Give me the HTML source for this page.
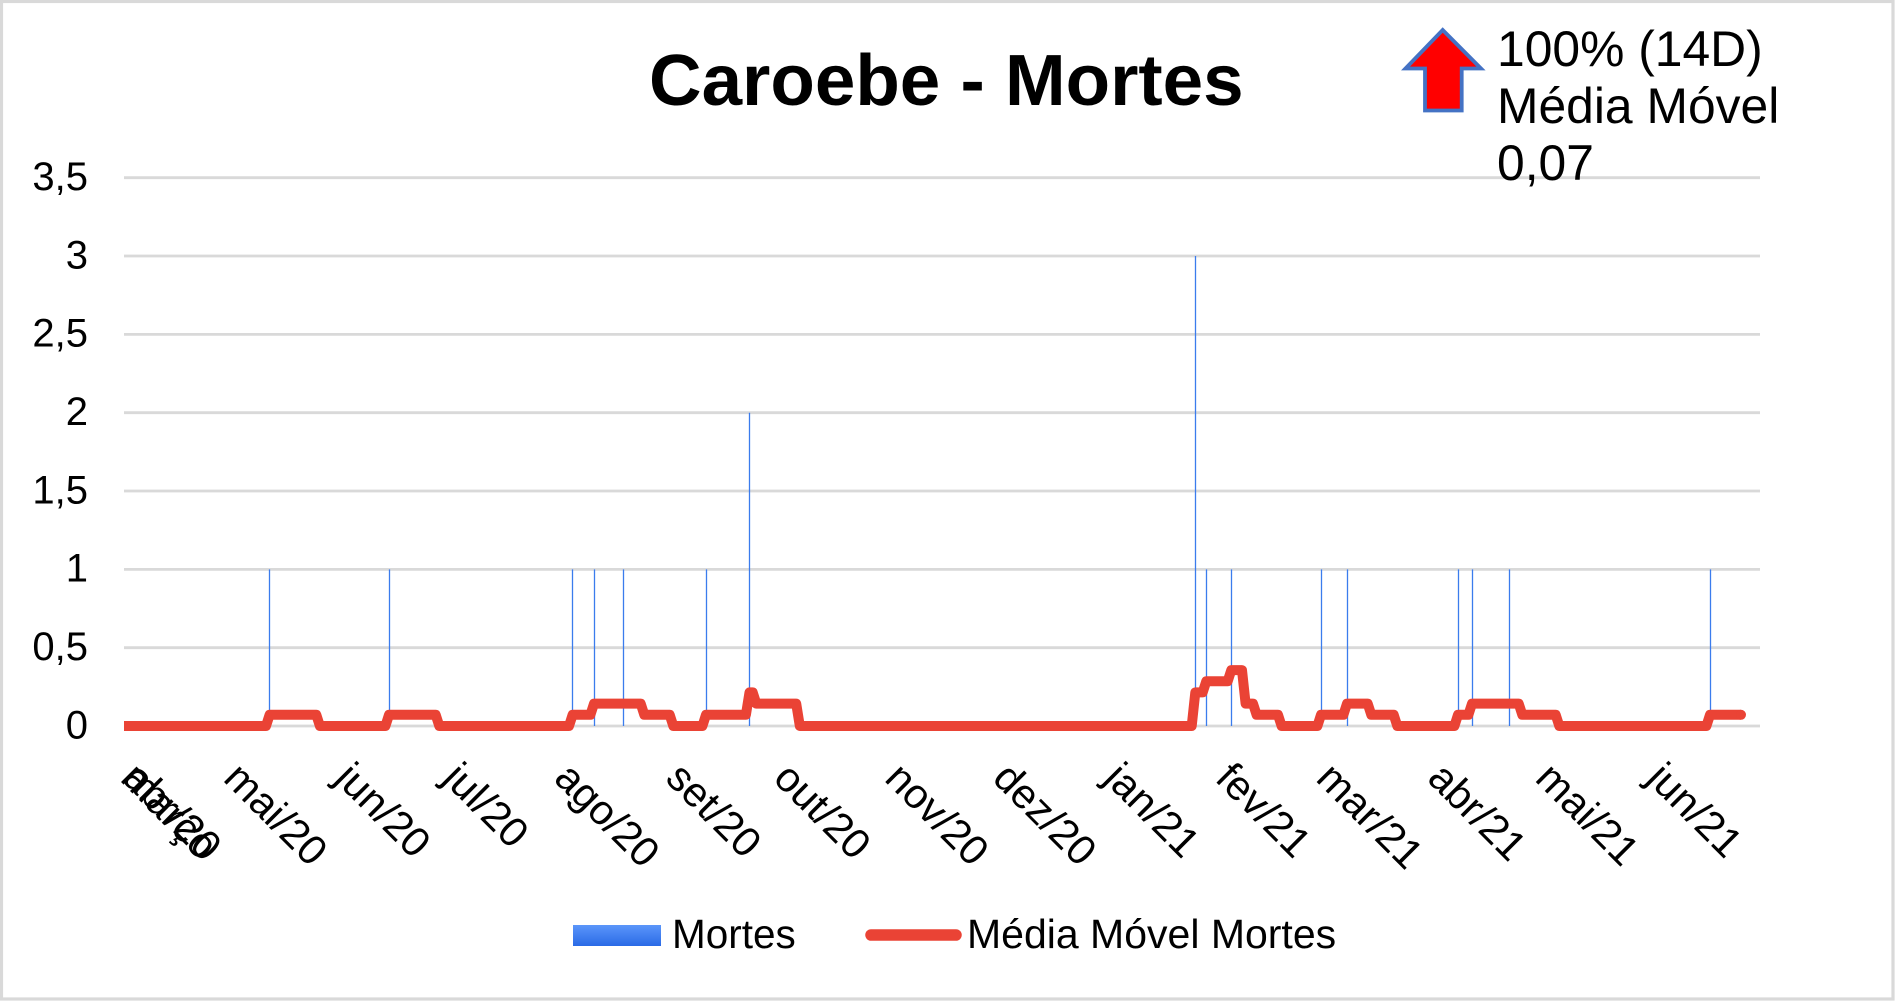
<!DOCTYPE html>
<html>
<head>
<meta charset="utf-8">
<style>
  html, body { margin: 0; padding: 0; background: #ffffff; }
  body { width: 1895px; height: 1001px; overflow: hidden; }
  svg { display: block; font-family: "Liberation Sans", Arial, sans-serif; }
</style>
</head>
<body>
<svg width="1895" height="1001" viewBox="0 0 1895 1001" xmlns="http://www.w3.org/2000/svg">
  <defs>
    <linearGradient id="blueGrad" x1="0" y1="0" x2="0" y2="1">
      <stop offset="0" stop-color="#5b96fa"/>
      <stop offset="1" stop-color="#2a6ae6"/>
    </linearGradient>
  </defs>

  <!-- background and border -->
  <rect x="0" y="0" width="1895" height="1001" fill="#ffffff"/>
  <rect x="1.5" y="1.5" width="1891.5" height="997.5" fill="none" stroke="#d9d9d9" stroke-width="3.2"/>

  <!-- title -->
  <text x="649" y="105" font-size="72.8" font-weight="bold" fill="#000">Caroebe - Mortes</text>

  <!-- gridlines -->
  <g stroke="#d9d9d9" stroke-width="2.8">
    <line x1="124" y1="177.7" x2="1760" y2="177.7"/>
    <line x1="124" y1="256.0" x2="1760" y2="256.0"/>
    <line x1="124" y1="334.4" x2="1760" y2="334.4"/>
    <line x1="124" y1="412.7" x2="1760" y2="412.7"/>
    <line x1="124" y1="491.0" x2="1760" y2="491.0"/>
    <line x1="124" y1="569.4" x2="1760" y2="569.4"/>
    <line x1="124" y1="647.7" x2="1760" y2="647.7"/>
    <line x1="124" y1="726.0" x2="1760" y2="726.0"/>
  </g>

  <!-- y-axis labels -->
  <g font-size="40" fill="#000" text-anchor="end">
    <text x="88" y="190">3,5</text>
    <text x="88" y="268.3">3</text>
    <text x="88" y="346.7">2,5</text>
    <text x="88" y="425">2</text>
    <text x="88" y="503.3">1,5</text>
    <text x="88" y="581.7">1</text>
    <text x="88" y="660">0,5</text>
    <text x="88" y="738.3">0</text>
  </g>

  <!-- annotation arrow -->
  <polygon points="1442.7,30 1481,68.5 1461.7,68.5 1461.7,110.5 1425,110.5 1425,68.5 1405.5,68.5"
           fill="#ff0000" stroke="#4472c4" stroke-width="3.8" stroke-linejoin="miter"/>

  <!-- bars (Mortes) -->
  <g stroke="#3b7ced" stroke-width="1.3">
    <line x1="269.5" y1="569.4" x2="269.5" y2="726"/>
    <line x1="389.5" y1="569.4" x2="389.5" y2="726"/>
    <line x1="572.5" y1="569.4" x2="572.5" y2="726"/>
    <line x1="594.5" y1="569.4" x2="594.5" y2="726"/>
    <line x1="623.5" y1="569.4" x2="623.5" y2="726"/>
    <line x1="706.5" y1="569.4" x2="706.5" y2="726"/>
    <line x1="749.5" y1="412.7" x2="749.5" y2="726"/>
    <line x1="1195.5" y1="256.0" x2="1195.5" y2="726"/>
    <line x1="1206.5" y1="569.4" x2="1206.5" y2="726"/>
    <line x1="1231.5" y1="569.4" x2="1231.5" y2="726"/>
    <line x1="1321.5" y1="569.4" x2="1321.5" y2="726"/>
    <line x1="1347.5" y1="569.4" x2="1347.5" y2="726"/>
    <line x1="1458.5" y1="569.4" x2="1458.5" y2="726"/>
    <line x1="1472.5" y1="569.4" x2="1472.5" y2="726"/>
    <line x1="1509.5" y1="569.4" x2="1509.5" y2="726"/>
    <line x1="1710.5" y1="569.4" x2="1710.5" y2="726"/>
  </g>

  <!-- moving average line -->
  <polyline fill="none" stroke="#ea4335" stroke-width="10" stroke-linejoin="round" stroke-linecap="butt"
    points="124,726 266.0,726 269.6,714.8 316.3,714.8 319.9,726 385.4,726 389,714.8 435.7,714.8 439.3,726
            569.0,726 572.6,714.8 590.4,714.8 594,703.6 640.7,703.6 644.3,714.8 669.7,714.8 673.3,726
            702.4,726 706,714.8 745.9,714.8 749.5,692.4 752.7,692.4 756.3,703.6 796.2,703.6 799.8,726
            1191.7,726 1195.3,692.4 1202.7,692.4 1206.3,681.2 1227.7,681.2 1231.3,670.1 1242.0,670.1 1245.6,703.6
            1253.0,703.6 1256.6,714.8 1278.0,714.8 1281.6,726 1317.4,726 1321,714.8 1343.4,714.8 1347,703.6
            1367.7,703.6 1371.3,714.8 1393.7,714.8 1397.3,726 1454.4,726 1458,714.8 1468.4,714.8 1472,703.6
            1518.7,703.6 1522.3,714.8 1555.7,714.8 1559.3,726 1706.4,726 1710,714.8 1741,714.8"/>
  <circle cx="1741" cy="714.8" r="5" fill="#ea4335"/>

  <!-- annotation text -->
  <g font-size="49.8" fill="#000">
    <text x="1497" y="66">100% (14D)</text>
    <text x="1497" y="123">Média Móvel</text>
    <text x="1497" y="180">0,07</text>
  </g>

  <!-- x-axis labels (rotated 45deg) -->
  <g font-size="41.5" fill="#000">
    <text x="119" y="780" transform="rotate(45 119 780)">março</text>
    <text x="121" y="780" transform="rotate(45 121 780)">abr/20</text>
    <text x="222" y="780" transform="rotate(45 222 780)">mai/20</text>
    <text x="333.4" y="780" transform="rotate(45 333.4 780)">jun/20</text>
    <text x="441.2" y="780" transform="rotate(45 441.2 780)">jul/20</text>
    <text x="552.6" y="780" transform="rotate(45 552.6 780)">ago/20</text>
    <text x="664.1" y="780" transform="rotate(45 664.1 780)">set/20</text>
    <text x="771.9" y="780" transform="rotate(45 771.9 780)">out/20</text>
    <text x="883.3" y="780" transform="rotate(45 883.3 780)">nov/20</text>
    <text x="991.1" y="780" transform="rotate(45 991.1 780)">dez/20</text>
    <text x="1102.5" y="780" transform="rotate(45 1102.5 780)">jan/21</text>
    <text x="1213.9" y="780" transform="rotate(45 1213.9 780)">fev/21</text>
    <text x="1314.6" y="780" transform="rotate(45 1314.6 780)">mar/21</text>
    <text x="1426.0" y="780" transform="rotate(45 1426.0 780)">abr/21</text>
    <text x="1533.8" y="780" transform="rotate(45 1533.8 780)">mai/21</text>
    <text x="1645.2" y="780" transform="rotate(45 1645.2 780)">jun/21</text>
  </g>

  <!-- legend -->
  <rect x="573" y="925" width="88" height="21" fill="url(#blueGrad)"/>
  <text x="672" y="948" font-size="40.5" fill="#000">Mortes</text>
  <line x1="871" y1="935" x2="956" y2="935" stroke="#ea4335" stroke-width="11.5" stroke-linecap="round"/>
  <text x="967" y="948" font-size="41" fill="#000">Média Móvel Mortes</text>
</svg>
</body>
</html>
